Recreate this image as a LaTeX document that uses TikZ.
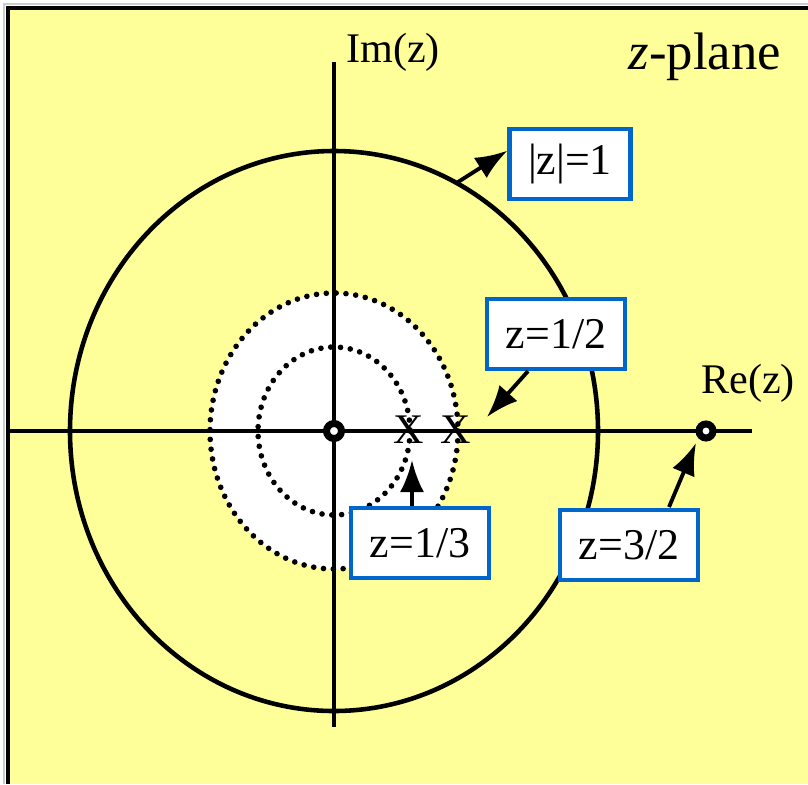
\documentclass[tikz,border=0pt]{standalone}
\usepackage{fontspec}
\setmainfont{Liberation Serif}
\usetikzlibrary{arrows.meta,positioning}
\definecolor{bgyel}{HTML}{FFFF99}
\definecolor{bxblue}{HTML}{0066CC}

\begin{document}
\begin{tikzpicture}[x=0.1mm,y=-0.1mm,
  font=\fontsize{12}{14}\selectfont,
  lb/.style={draw=bxblue,line width=1.2pt,fill=white,minimum width=13.8mm,minimum height=7mm,inner sep=0pt,font=\fontsize{12.5}{14}\selectfont},
  ax/.style={line width=1.3pt},
  dt/.style={line width=1.6pt,line cap=round,dash pattern=on 0pt off 2.8pt},
  mk/.style={line width=2pt},
  xm/.style={inner sep=0pt,font=\fontsize{12}{14}\selectfont},
  a/.style={line width=1.1pt,-{Latex[length=3.2mm,width=2.4mm]}}]
\useasboundingbox (0,0) rectangle (808,784);
% backdrop
\fill[white] (0,0) rectangle (808,784);
\fill[bgyel] (8,8) rectangle (808,784);
\draw[gray!40,line width=0.3pt] (4,784)--(4,4)--(808,4);
\draw[line width=1.2pt] (8,784)--(8,8)--(808,8);
\coordinate (O) at (334,431);
\coordinate (p) at (706,431);
% regions
\fill[white] (O) ellipse [x radius=124,y radius=138];
\draw[dt] (O) ellipse [x radius=124,y radius=138];
\draw[dt] (O) ellipse [x radius=76,y radius=84];
\draw[ax] (O) ellipse [x radius=264,y radius=280];
% axes
\coordinate (xl) at (8,431);\coordinate (xr) at (752,431);
\coordinate (yt) at (334,62);\coordinate (yb) at (334,727);
\draw[ax] (xl)--(xr);\draw[ax] (yt)--(yb);
\node (im) at (393,52) {Im(z)};
\node (re) at (748,383) {Re(z)};
\node (zp) at (705,57) {\fontsize{15}{17}\selectfont\textit{z}-plane};
% poles and zeros
\draw[mk,fill=white] (O) circle[radius=7.5];
\draw[mk,fill=white] (p) circle[radius=7];
\node[xm] (z3) at (409,430) {X};
\node[xm] (z2) at (456,430) {X};
% labels
\node[lb,minimum width=12.1mm] (k1) at (570,164) {|z|=1};
\node[lb] (k2) at (556,334) {z=1/2};
\node[lb] (k3) at (420,543) {z=1/3};
\node[lb] (k4) at (629,545) {z=3/2};
\coordinate (c1) at (458,182);
\coordinate (t2) at (487,417);
\coordinate (t3) at (412,460);
\coordinate (s4) at (669,507);
\coordinate (t4) at (696,443);
\draw[a](c1)--(k1.168);\draw[a](k2.233)--(t2);
\draw[a](t3 |- k3.north)--(t3);\draw[a](s4)--(t4);
\end{tikzpicture}
\end{document}
